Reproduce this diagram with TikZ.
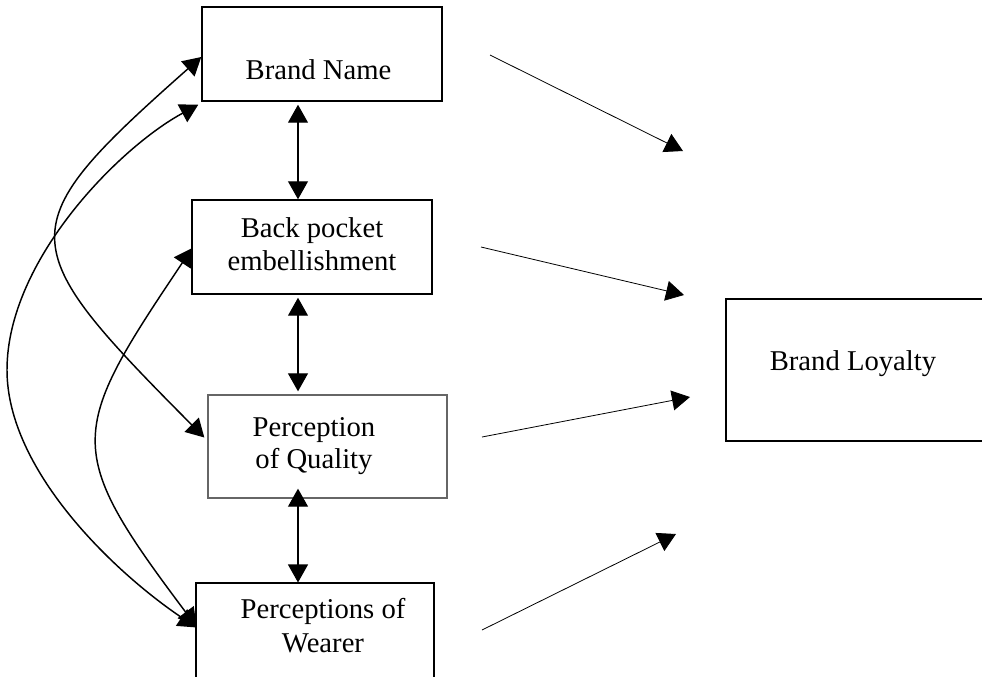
\documentclass[tikz,border=0pt]{standalone}
\usepackage{fontspec}
\setmainfont{Liberation Serif}
\usetikzlibrary{arrows.meta,fit,calc}
\begin{document}
\begin{tikzpicture}[x=0.75pt,y=-0.75pt,
  box/.style={draw,line width=1.1pt,inner sep=0pt},
  lbl/.style={anchor=base,inner sep=0pt,font=\fontsize{21.5}{26}\selectfont},
  head/.tip={Triangle[length=13.5pt,width=15pt]},
  onearrow/.style={-head,line width=0.6pt},
  twoarrow/.style={head-head,line width=0.8pt},
  curvearrow/.style={head-head,line width=1.1pt}]
\useasboundingbox (0,0) rectangle (982,676);
\clip (0,0) rectangle (982,676);

% boxes
\node[box,fit={(202,7) (442,101)}] (bn) {};
\node[box,fit={(192,200) (432,294)}] (bp) {};
\node[box,draw=black!60,line width=1pt,fit={(208,395) (447,498)}] (pq) {};
\node[box,line width=0.8pt,fit={(196,583) (434,705)}] (pw) {};
\node[box,fit={(726,299) (995,441)}] (bl) {};

% texts
\node[lbl] (tbn) at (318.5,79) {Brand Name};
\node[lbl] (tbp1) at (312,237) {Back pocket};
\node[lbl] (tbp2) at (312,270) {embellishment};
\node[lbl] (tpq1) at (314,436) {Perception};
\node[lbl] (tpq2) at (314,468) {of Quality};
\node[lbl] (tpw1) at (323,618) {Perceptions of};
\node[lbl] (tpw2) at (323,652) {Wearer};
\node[lbl] (tbl) at (853,370) {Brand Loyalty};

% vertical double arrows
\coordinate (vx) at (298,0);
\draw[twoarrow] ($(bn.south -| vx)+(0,3)$) -- (bp.north -| vx);
\draw[twoarrow] ($(bp.south -| vx)+(0,3)$) -- ($(pq.north -| vx)+(0,-3)$);
\draw[twoarrow] ($(pq.south -| vx)+(0,-10)$) -- (pw.north -| vx);

% left curves
\draw[curvearrow] ($(bn.west)+(0,3)$) .. controls (8,228) and (11,243) .. ($(pq.west)+(-3,-9)$);
\draw[curvearrow] ($(bn.south west)+(-3,3)$) .. controls (120,147) and (7,260) .. (7,370)
  .. controls (7,470) and (114,572) .. ($(pw.north west)+(1,45)$);
\draw[curvearrow] ($(bp.west)+(1,1)$) .. controls (68,433) and (63,449) .. ($(pw.north west)+(1,44)$);

% right arrows
\coordinate (a1s) at (490,55);  \coordinate (a1e) at (683,151);
\coordinate (a2s) at (481,247); \coordinate (a2e) at (684,295);
\coordinate (a3s) at (482,437); \coordinate (a3e) at (690,397);
\coordinate (a4s) at (482,630); \coordinate (a4e) at (676,534);
\draw[onearrow] (a1s) -- (a1e);
\draw[onearrow] (a2s) -- (a2e);
\draw[onearrow] (a3s) -- (a3e);
\draw[onearrow] (a4s) -- (a4e);
\end{tikzpicture}
\end{document}
